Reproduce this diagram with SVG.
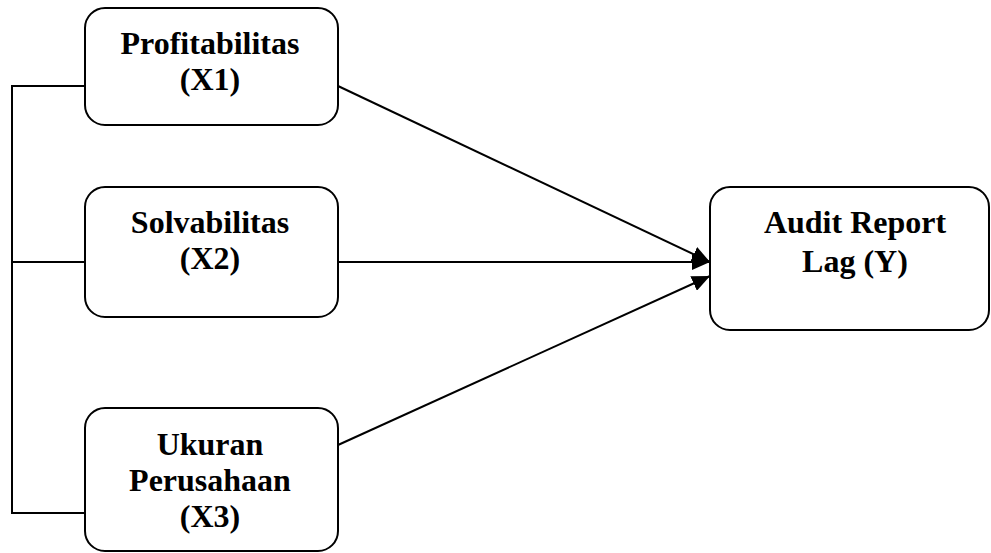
<svg xmlns="http://www.w3.org/2000/svg" width="991" height="553" viewBox="0 0 991 553">
<defs>
<style>
.box{fill:#fff;stroke:#000;stroke-width:2}
.t{font-family:"Liberation Serif","Times New Roman",serif;font-weight:bold;font-size:32px;text-anchor:middle;fill:#000}
.c{stroke:#000;stroke-width:2;fill:none}
</style>
<marker id="ah" markerWidth="18" markerHeight="16" refX="18" refY="8" orient="auto" markerUnits="userSpaceOnUse">
<path d="M0,0 L18,8 L0,16 Z" fill="#000"/>
</marker>
</defs>
<g id="connectors">
<polyline class="c" points="85,86 12,86 12,513 85,513"/>
<line class="c" x1="12" y1="262" x2="85" y2="262"/>
<line class="c" x1="338" y1="86" x2="710" y2="262" marker-end="url(#ah)"/>
<line class="c" x1="338" y1="262" x2="710" y2="262" marker-end="url(#ah)"/>
<line class="c" x1="338" y1="445" x2="710" y2="276" marker-end="url(#ah)"/>
</g>
<g id="x1">
<rect class="box" x="85" y="8" width="253" height="117" rx="20"/>
<text class="t" x="210" y="54">Profitabilitas</text>
<text class="t" x="210" y="90">(X1)</text>
</g>
<g id="x2">
<rect class="box" x="85" y="187" width="253" height="130" rx="20"/>
<text class="t" x="210" y="233">Solvabilitas</text>
<text class="t" x="210" y="269">(X2)</text>
</g>
<g id="x3">
<rect class="box" x="85" y="408" width="253" height="143" rx="20"/>
<text class="t" x="210" y="455">Ukuran</text>
<text class="t" x="210" y="491">Perusahaan</text>
<text class="t" x="210" y="527">(X3)</text>
</g>
<g id="y">
<rect class="box" x="710" y="187" width="279" height="143" rx="20"/>
<text class="t" x="855" y="233">Audit Report</text>
<text class="t" x="855" y="272">Lag (Y)</text>
</g>
</svg>
